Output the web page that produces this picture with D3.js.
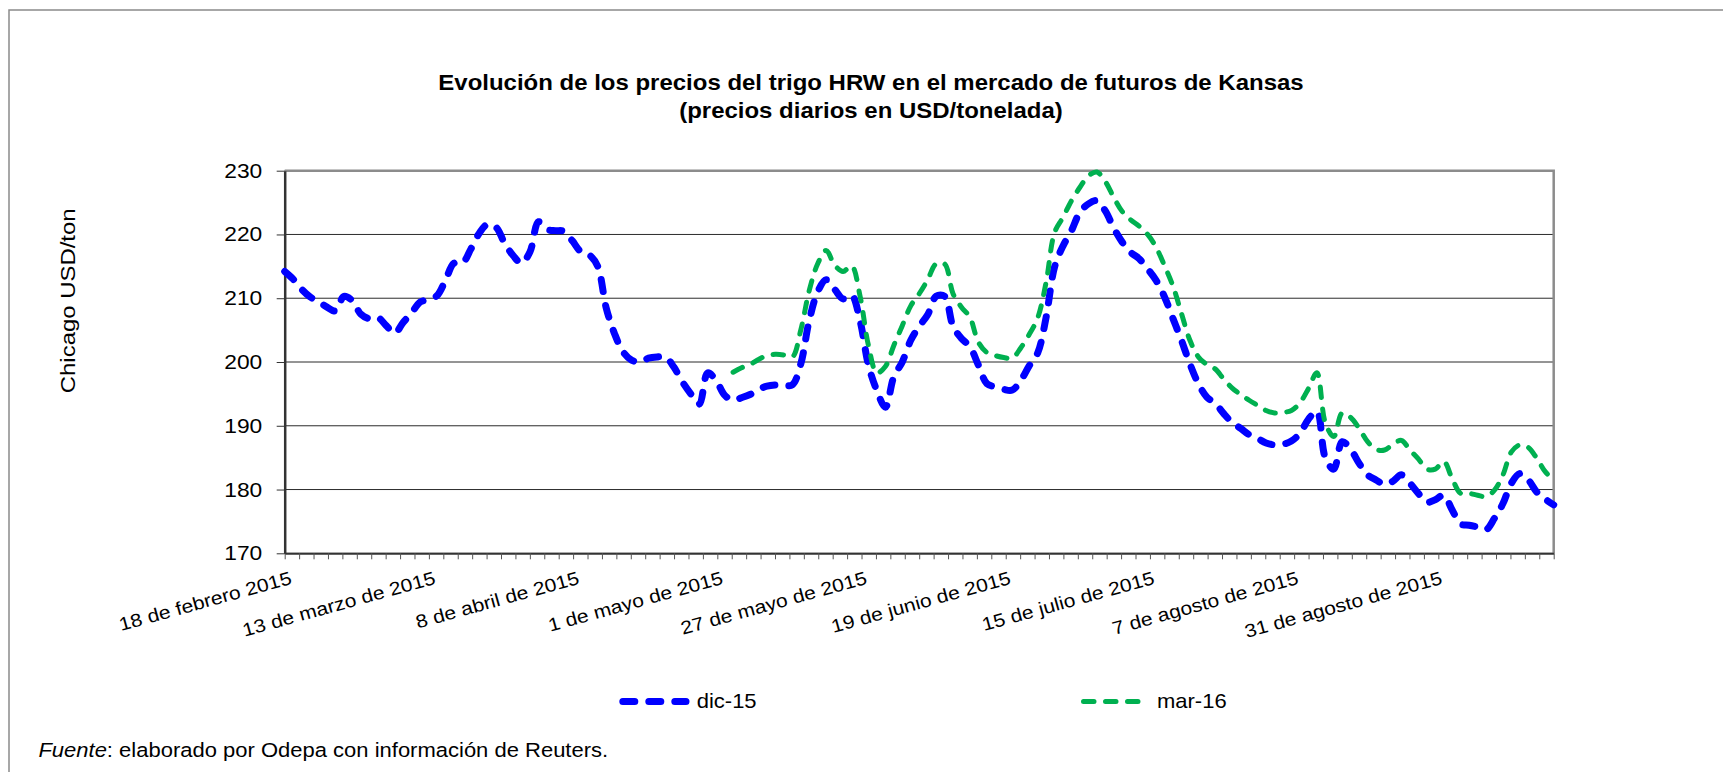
<!DOCTYPE html>
<html>
<head>
<meta charset="utf-8">
<script src="https://cdn.jsdelivr.net/npm/d3@7"></script>
<style>
body { margin: 0; background: #fff; }
text { font-family: Arial, "Liberation Sans", sans-serif; fill: #000; }
</style>
</head>
<body>
<div id="chart"></div>
<script>
// category labels, one every 17 trading days
var xLabels = [
    "18 de febrero 2015", "13 de marzo de 2015", "8 de abril de 2015",
    "1 de mayo de 2015", "27 de mayo de 2015", "19 de junio de 2015",
    "15 de julio de 2015", "7 de agosto de 2015", "31 de agosto de 2015"
];
var labelStep = 17;
var yTicks = [170, 180, 190, 200, 210, 220, 230];

// dic-15 futures, USD/ton (daily)
var dic15 = [
    214.2, 213.0, 211.4, 210.2, 209.5, 208.6, 208.0, 210.3, 209.6, 207.5,
    206.8, 207.0, 205.7, 204.5, 206.2, 207.7, 209.4, 209.8, 210.4, 212.8,
    215.5, 215.5, 217.7, 220.2, 221.6, 221.1, 218.6, 216.7, 215.5, 217.3,
    222.0, 220.8, 220.6, 220.5, 219.0, 217.3, 216.8, 215.0, 208.5, 204.4,
    201.6, 200.3, 200.0, 200.6, 200.8, 200.8, 199.2, 196.9, 195.0, 193.4,
    198.3, 197.1, 194.8, 194.0, 194.4, 194.9, 195.7, 196.2, 196.4, 196.4,
    196.4, 199.7, 206.5, 211.0, 212.9, 211.4, 209.9, 210.5, 206.5, 199.5,
    195.5, 192.9, 197.7, 200.0, 203.4, 205.6, 207.4, 210.3, 210.3, 205.6,
    203.7, 202.4, 199.5, 196.6, 196.1, 195.7, 195.6, 197.1, 199.4, 201.4,
    207.0, 214.9, 218.2, 220.6, 223.5, 224.8, 225.3, 223.7, 221.0, 218.8,
    217.2, 216.2, 214.6, 212.8, 210.2, 206.8, 203.4, 199.7, 196.6, 194.5,
    193.5, 191.9, 190.5, 189.6, 188.6, 188.0, 187.3, 187.0, 187.1, 187.6,
    188.8, 191.0, 192.3, 185.0, 183.2, 187.5, 186.3, 184.1, 182.3, 181.5,
    180.8, 181.3, 182.3, 181.0, 179.4, 178.0, 178.4, 179.1, 176.8, 174.6,
    174.4, 174.1, 173.7, 175.5, 177.8, 181.0, 182.5, 181.5, 179.6, 178.5,
    177.6
];

// mar-16 futures start later in the period
var mar16Start = 53;
var mar16 = [
    198.4, 199.1, 199.6, 200.4, 201.0, 201.2, 201.1, 200.8, 205.0, 211.2,
    215.4, 217.5, 215.2, 214.2, 215.1, 210.4, 202.6, 198.3, 199.3, 202.6,
    205.7, 208.8, 210.7, 212.9, 215.4, 215.4, 210.7, 208.6, 207.0, 203.1,
    201.5, 201.0, 200.7, 200.6, 202.2, 204.3, 206.9, 212.5, 220.3, 222.7,
    225.3, 227.4, 229.2, 229.8, 228.3, 225.8, 223.6, 222.3, 221.3, 220.0,
    218.0, 215.1, 211.9, 207.6, 203.4, 200.8, 199.6, 198.9, 197.3, 195.9,
    194.9, 194.0, 193.2, 192.4, 192.0, 192.1, 192.4, 193.6, 195.8, 198.3,
    190.5, 188.3, 192.0, 191.3, 189.6, 187.5, 186.3, 186.2, 187.1, 187.7,
    186.2, 184.8, 183.2, 183.2, 184.4, 181.7, 179.4, 179.4, 179.1, 178.9,
    179.9, 182.3, 185.9, 187.0, 186.6, 184.9, 182.8, 181.5
];

var width = 1723, height = 772;
var plot = { left: 284.7, right: 1553.7, top: 170.7, bottom: 553.3 };
var sx = 1.14;   // source text renders wider than Arial

var svg = d3.select("#chart").append("svg")
    .attr("width", width)
    .attr("height", height);

// chart area frame (runs off the right and bottom of the picture)
svg.append("rect")
    .attr("x", 9).attr("y", 10)
    .attr("width", 1760).attr("height", 800)
    .attr("fill", "none")
    .attr("stroke", "#8a8a8a")
    .attr("stroke-width", 1.5);

var x = d3.scaleLinear().domain([0, dic15.length - 1]).range([plot.left, plot.right]);
var y = d3.scaleLinear().domain([170, 230]).range([plot.bottom, plot.top]);

// title
var title = svg.append("text")
    .attr("text-anchor", "middle")
    .style("font-weight", "bold")
    .style("font-size", "22px");
title.append("tspan")
    .attr("x", 0).attr("y", 0)
    .text("Evolución de los precios del trigo HRW en el mercado de futuros de Kansas");
title.append("tspan")
    .attr("x", 0).attr("y", 28.3)
    .text("(precios diarios en USD/tonelada)");
title.attr("transform", "translate(871,90) scale(1.09,1)");

// gridlines
svg.append("g").selectAll("line")
    .data(yTicks)
    .join("line")
    .attr("x1", plot.left).attr("x2", plot.right)
    .attr("y1", function (d) { return y(d); })
    .attr("y2", function (d) { return y(d); })
    .attr("stroke", "#2b2b2b")
    .attr("stroke-width", 1);

// plot area border: grey on top and right
svg.append("path")
    .attr("d", "M" + plot.left + "," + plot.top + "H" + plot.right + "V" + plot.bottom)
    .attr("fill", "none")
    .attr("stroke", "#8c8c8c")
    .attr("stroke-width", 2.5);

// x axis, minor tick marks in 88 equal steps
var xTicks = d3.range(89).map(function (k) { return k * (dic15.length - 1) / 88; });
var xAxis = svg.append("g")
    .attr("transform", "translate(0," + plot.bottom + ")")
    .call(d3.axisBottom(x).tickValues(xTicks).tickFormat("").tickSizeInner(6).tickSizeOuter(0));
xAxis.select(".domain").attr("stroke", "#333").attr("stroke-width", 2);
xAxis.selectAll(".tick line").attr("stroke", "#555").attr("stroke-width", 1);

// y axis
var yAxis = svg.append("g")
    .attr("transform", "translate(" + plot.left + ",0)")
    .call(d3.axisLeft(y).tickValues(yTicks).tickFormat("").tickSizeInner(8).tickSizeOuter(0));
yAxis.select(".domain").attr("stroke", "#333").attr("stroke-width", 2.5);
yAxis.selectAll(".tick line").attr("stroke", "#333").attr("stroke-width", 1);

svg.append("g").selectAll("text")
    .data(yTicks)
    .join("text")
    .attr("text-anchor", "end")
    .attr("dy", "0.35em")
    .style("font-size", "20px")
    .attr("transform", function (d) {
        return "translate(262.3," + y(d) + ") scale(" + sx + ",1)";
    })
    .text(function (d) { return d; });

// rotated category labels
svg.append("g").selectAll("text")
    .data(xLabels)
    .join("text")
    .attr("text-anchor", "end")
    .style("font-size", "18.5px")
    .attr("transform", function (d, i) {
        return "translate(" + (x(i * labelStep) + 8) + ",583.5) rotate(-15.5) scale(" + sx + ",1)";
    })
    .text(function (d) { return d; });

// y axis title
svg.append("text")
    .attr("text-anchor", "middle")
    .style("font-size", "21px")
    .attr("transform", "translate(75,300.8) rotate(-90) scale(" + sx + ",1)")
    .text("Chicago USD/ton");

// series
var line = d3.line()
    .x(function (d) { return x(d[0]); })
    .y(function (d) { return y(d[1]); })
    .curve(d3.curveCatmullRom.alpha(0.5));

var series = [
    { name: "dic-15", color: "#0000FF", width: 7, dash: "12 14",
      points: dic15.map(function (v, i) { return [i, v]; }), legendX: 622.8, legendEnd: 686, textX: 696.7 },
    { name: "mar-16", color: "#00B050", width: 5, dash: "10.5 11.5",
      points: mar16.map(function (v, i) { return [i + mar16Start, v]; }), legendX: 1083.5, legendEnd: 1140, textX: 1157 }
];

series.forEach(function (s) {
    svg.append("path")
        .attr("d", line(s.points))
        .attr("fill", "none")
        .attr("stroke", s.color)
        .attr("stroke-width", s.width)
        .attr("stroke-dasharray", s.dash)
        .attr("stroke-linecap", "round")
        .attr("stroke-linejoin", "round");

    // legend entry
    svg.append("line")
        .attr("x1", s.legendX).attr("x2", s.legendEnd)
        .attr("y1", 701.5).attr("y2", 701.5)
        .attr("stroke", s.color)
        .attr("stroke-width", s.width)
        .attr("stroke-dasharray", s.dash)
        .attr("stroke-linecap", "round");
    svg.append("text")
        .style("font-size", "20px")
        .attr("transform", "translate(" + s.textX + ",707.7) scale(1.1,1)")
        .text(s.name);
});

// source note
var note = svg.append("text")
    .style("font-size", "19.3px")
    .attr("transform", "translate(38.4,757) scale(" + sx + ",1)");
note.append("tspan").style("font-style", "italic").text("Fuente");
note.append("tspan").text(": elaborado por Odepa con información de Reuters.");
</script>
</body>
</html>
